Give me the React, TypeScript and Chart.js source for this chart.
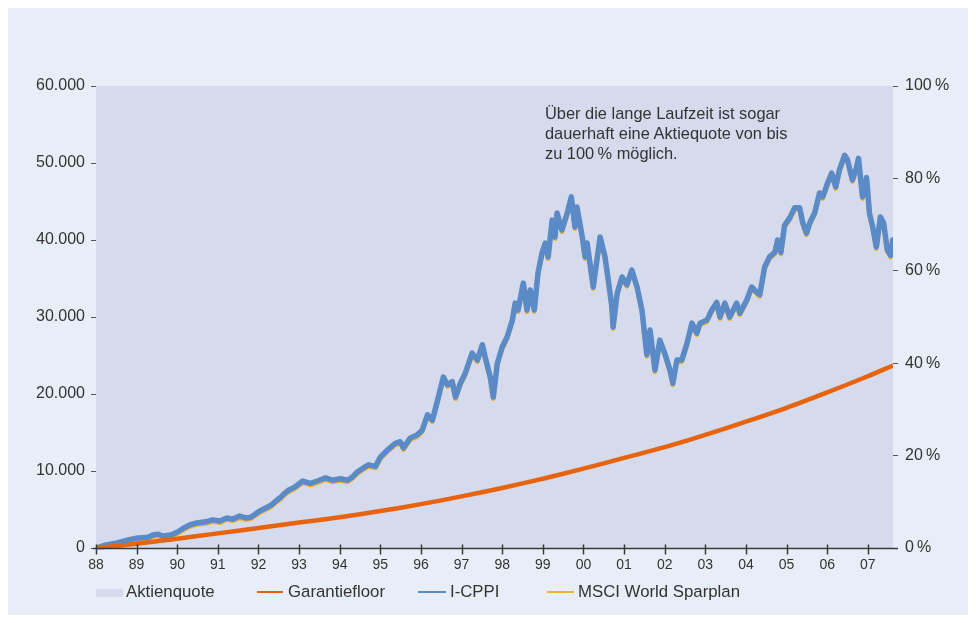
import React, { useEffect, useRef } from "react";
import { Chart, registerables } from "chart.js";

Chart.register(...registerables);

// I-CPPI (daily path, sampled) — years as decimals, values in EUR
const cppiYears = [
  1988.0, 1988.25, 1988.52, 1988.76, 1989.03, 1989.28, 1989.4, 1989.52, 1989.65, 1989.84,
  1990.01, 1990.16, 1990.31, 1990.48, 1990.7, 1990.87, 1991.05, 1991.22, 1991.37, 1991.54,
  1991.69, 1991.81, 1992.03, 1992.18, 1992.32, 1992.45, 1992.55, 1992.64, 1992.74, 1992.89,
  1993.09, 1993.28, 1993.45, 1993.65, 1993.82, 1994.02, 1994.19, 1994.31, 1994.44, 1994.58,
  1994.71, 1994.88, 1995.0, 1995.17, 1995.37, 1995.49, 1995.57, 1995.74, 1995.91, 1996.03,
  1996.16, 1996.28, 1996.4, 1996.55, 1996.65, 1996.77, 1996.85, 1996.97, 1997.09, 1997.26,
  1997.39, 1997.51, 1997.58, 1997.71, 1997.78, 1997.88, 1998.0, 1998.12, 1998.25, 1998.32,
  1998.39, 1998.52, 1998.61, 1998.69, 1998.79, 1998.88, 1998.98, 1999.06, 1999.13, 1999.23,
  1999.3, 1999.35, 1999.47, 1999.6, 1999.7, 1999.79, 1999.84, 1999.97, 2000.04, 2000.09,
  2000.16, 2000.24, 2000.33, 2000.41, 2000.53, 2000.6, 2000.7, 2000.73, 2000.83, 2000.95,
  2001.07, 2001.19, 2001.32, 2001.44, 2001.56, 2001.64, 2001.76, 2001.88, 2002.0, 2002.13,
  2002.2, 2002.3, 2002.42, 2002.55, 2002.67, 2002.79, 2002.87, 2003.04, 2003.16, 2003.28,
  2003.36, 2003.48, 2003.6, 2003.77, 2003.85, 2004.02, 2004.14, 2004.27, 2004.34, 2004.46,
  2004.58, 2004.71, 2004.78, 2004.86, 2004.95, 2005.08, 2005.2, 2005.32, 2005.4, 2005.49,
  2005.57, 2005.69, 2005.81, 2005.89, 2006.01, 2006.11, 2006.21, 2006.3, 2006.43, 2006.5,
  2006.62, 2006.72, 2006.77, 2006.87, 2006.97, 2007.04, 2007.12, 2007.21, 2007.31, 2007.39,
  2007.48, 2007.56, 2007.61,
];
const cppiValues = [
  0, 400, 650, 1000, 1300, 1400, 1700, 1800, 1550, 1700,
  2080, 2600, 3000, 3250, 3400, 3650, 3500, 3900, 3750, 4150,
  3900, 4000, 4800, 5200, 5600, 6200, 6600, 7100, 7500, 7900,
  8700, 8400, 8700, 9100, 8800, 9000, 8800, 9200, 9900, 10400,
  10800, 10600, 11800, 12700, 13600, 13800, 13000, 14300, 14700, 15300,
  17300, 16600, 19000, 22200, 21200, 21600, 19600, 21400, 22700, 25300,
  24400, 26400, 24800, 22100, 19600, 24000, 26100, 27400, 29600, 31800,
  30900, 34400, 30900, 33500, 30900, 35700, 38300, 39600, 37800, 42600,
  40400, 43500, 41300, 43500, 45600, 41700, 44300, 40400, 37800, 39600,
  37000, 33900, 37400, 40400, 37800, 35200, 31300, 28700, 33100, 35200,
  34200, 36100, 33900, 30900, 25100, 28300, 23100, 27000, 25300, 23100,
  21400, 24400, 24400, 26600, 29200, 27900, 29200, 29600, 30900, 31900,
  30000, 31800, 30000, 31800, 30500, 32200, 33900, 33200, 32900, 36500,
  37800, 38400, 40000, 38400, 41900, 42900, 44200, 44200, 42200, 40900,
  42200, 43500, 46100, 45600, 47400, 48700, 46900, 49100, 51000, 50400,
  47800, 49400, 50600, 45600, 48100, 43500, 41700, 39100, 43000, 42200,
  38700, 38000, 40000,
];

// MSCI World Sparplan: coincides with the I-CPPI path at 100 % Aktienquote
const msciYears = cppiYears;
const msciValues = cppiValues;

// Garantiefloor
const floorYears = [
  1988, 1989, 1990, 1991, 1992, 1993, 1994, 1995, 1996, 1997,
  1998, 1999, 2000, 2001, 2002, 2003, 2004, 2005, 2006, 2007, 2007.62,
];
const floorValues = [
  0, 550, 1200, 1900, 2600, 3300, 4000, 4800, 5700, 6700,
  7800, 9000, 10300, 11700, 13100, 14700, 16400, 18200, 20200, 22300, 23700,
];

// Aktienquote (%)
const quoteYears = [1988, 2007.62];
const quoteValues = [100, 100];

const xMin = 1988;
const xMax = 2007.62;
const leftMax = 60000;
const leftStep = 10000;
const rightMax = 100;
const rightStep = 20;

const legendLabels = ["Aktienquote", "Garantiefloor", "I-CPPI", "MSCI World Sparplan"];

const COL_BG = "#e8eef7";
const COL_AREA = "#d5dbec";
const COL_FLOOR = "#e8630e";
const COL_CPPI = "#5b8bc6";
const COL_MSCI = "#f0b234";
const COL_TEXT = "#333333";
const FONT = "'Liberation Sans', Arial, sans-serif";

const pts = (xs: number[], ys: number[]) => xs.map((x, i) => ({ x, y: ys[i] }));

const fmtThousands = (v: number) =>
  String(Math.round(v)).replace(/\B(?=(\d{3})+(?!\d))/g, ".");

const axisPlugin = {
  id: "axisCross",
  beforeDatasetDraw(chart: any, args: any) {
    const ds = chart.data.datasets[args.index];
    if (ds && ds.shiftDown) {
      chart.ctx.save();
      chart.ctx.translate(0, ds.shiftDown);
    }
  },
  afterDatasetDraw(chart: any, args: any) {
    const ds = chart.data.datasets[args.index];
    if (ds && ds.shiftDown) chart.ctx.restore();
  },
  afterDraw(chart: any) {
    const { ctx, chartArea } = chart;
    const x = chart.scales.x;
    const b = Math.round(chartArea.bottom) + 0.5;
    ctx.save();
    ctx.strokeStyle = "#3a3a3a";
    ctx.lineWidth = 1.5;
    ctx.beginPath();
    ctx.moveTo(chartArea.left - 3, b);
    ctx.lineTo(chartArea.right + 5, b);
    x.ticks.forEach((t: any) => {
      const px = Math.round(x.getPixelForValue(t.value)) + 0.5;
      ctx.moveTo(px, b - 4);
      ctx.lineTo(px, b + 6);
    });
    ctx.stroke();
    ctx.restore();
  },
};

export default function App() {
  const ref = useRef<HTMLCanvasElement | null>(null);

  useEffect(() => {
    if (!ref.current) return;
    const chart = new Chart(ref.current, {
      type: "line",
      data: {
        datasets: [
          {
            label: legendLabels[1],
            data: pts(floorYears, floorValues),
            yAxisID: "y",
            borderColor: COL_FLOOR,
            borderWidth: 4.5,
            pointRadius: 0,
            tension: 0.3,
            fill: false,
          },
          {
            label: legendLabels[2],
            data: pts(cppiYears, cppiValues),
            yAxisID: "y",
            borderColor: COL_CPPI,
            borderWidth: 5.5,
            borderJoinStyle: "round",
            borderCapStyle: "round",
            pointRadius: 0,
            tension: 0,
            fill: false,
          },
          {
            label: legendLabels[3],
            data: pts(msciYears, msciValues),
            yAxisID: "y",
            borderColor: COL_MSCI,
            borderWidth: 4.5,
            borderJoinStyle: "round",
            pointRadius: 0,
            tension: 0,
            fill: false,
            shiftDown: 1.8,
          } as any,
          {
            label: legendLabels[0],
            data: pts(quoteYears, quoteValues),
            yAxisID: "y1",
            borderWidth: 0,
            borderColor: COL_AREA,
            backgroundColor: COL_AREA,
            pointRadius: 0,
            fill: "origin",
          },
        ],
      },
      options: {
        animation: false,
        responsive: false,
        maintainAspectRatio: false,
        layout: { padding: { top: 78, left: 0, right: 0, bottom: 0 } },
        plugins: { legend: { display: false }, tooltip: { enabled: false } },
        scales: {
          x: {
            type: "linear",
            min: xMin,
            max: xMax,
            afterFit: (s: any) => {
              s.height = 67;
            },
            grid: { display: false, drawTicks: false },
            border: { display: false },
            ticks: {
              stepSize: 1,
              includeBounds: false,
              autoSkip: false,
              maxRotation: 0,
              padding: 9,
              color: COL_TEXT,
              font: { family: FONT, size: 14 },
              callback: (v: any) => String(Math.round(v) % 100).padStart(2, "0"),
            },
          },
          y: {
            position: "left",
            min: 0,
            max: leftMax,
            afterFit: (s: any) => {
              s.width = 88;
            },
            grid: { drawOnChartArea: false, drawTicks: true, tickLength: 5, color: "#555", lineWidth: 1 },
            border: { display: false },
            ticks: {
              stepSize: leftStep,
              padding: 6,
              color: COL_TEXT,
              font: { family: FONT, size: 16 },
              callback: (v: any) => fmtThousands(Number(v)),
            },
          },
          y1: {
            position: "right",
            min: 0,
            max: rightMax,
            afterFit: (s: any) => {
              s.width = 75;
            },
            grid: { drawOnChartArea: false, drawTicks: true, tickLength: 5, color: "#555", lineWidth: 1 },
            border: { display: false },
            ticks: {
              stepSize: rightStep,
              padding: 7,
              color: COL_TEXT,
              font: { family: FONT, size: 16 },
              callback: (v: any) => `${v}\u2009%`,
            },
          },
        },
      },
      plugins: [axisPlugin],
    } as any);
    return () => chart.destroy();
  }, []);

  const legendText: React.CSSProperties = {
    position: "absolute",
    top: 574,
    lineHeight: "20px",
    fontFamily: FONT,
    fontSize: 16.8,
    color: COL_TEXT,
    whiteSpace: "nowrap",
  };
  const lineSwatch = (left: number, width: number, color: string): React.CSSProperties => ({
    position: "absolute",
    left,
    top: 583,
    width,
    height: 2,
    background: color,
  });

  return (
    <div style={{ position: "relative", width: 960, height: 607, background: COL_BG }}>
      <canvas ref={ref} width={960} height={607} style={{ display: "block" }} />
      <div
        style={{
          position: "absolute",
          left: 537,
          top: 95,
          lineHeight: "20px",
          fontFamily: FONT,
          fontSize: 16.4,
          color: COL_TEXT,
          whiteSpace: "nowrap",
        }}
      >
        Über die lange Laufzeit ist sogar
        <br />
        dauerhaft eine Aktiequote von bis
        <br />
        zu 100{"\u2009"}% möglich.
      </div>
      <div style={{ position: "absolute", left: 88, top: 581, width: 27, height: 8, background: COL_AREA }} />
      <div style={{ ...legendText, left: 118 }}>{legendLabels[0]}</div>
      <div style={lineSwatch(249, 26, COL_FLOOR)} />
      <div style={{ ...legendText, left: 280 }}>{legendLabels[1]}</div>
      <div style={lineSwatch(410, 28, COL_CPPI)} />
      <div style={{ ...legendText, left: 442 }}>{legendLabels[2]}</div>
      <div style={lineSwatch(539, 27, COL_MSCI)} />
      <div style={{ ...legendText, left: 570 }}>{legendLabels[3]}</div>
    </div>
  );
}
